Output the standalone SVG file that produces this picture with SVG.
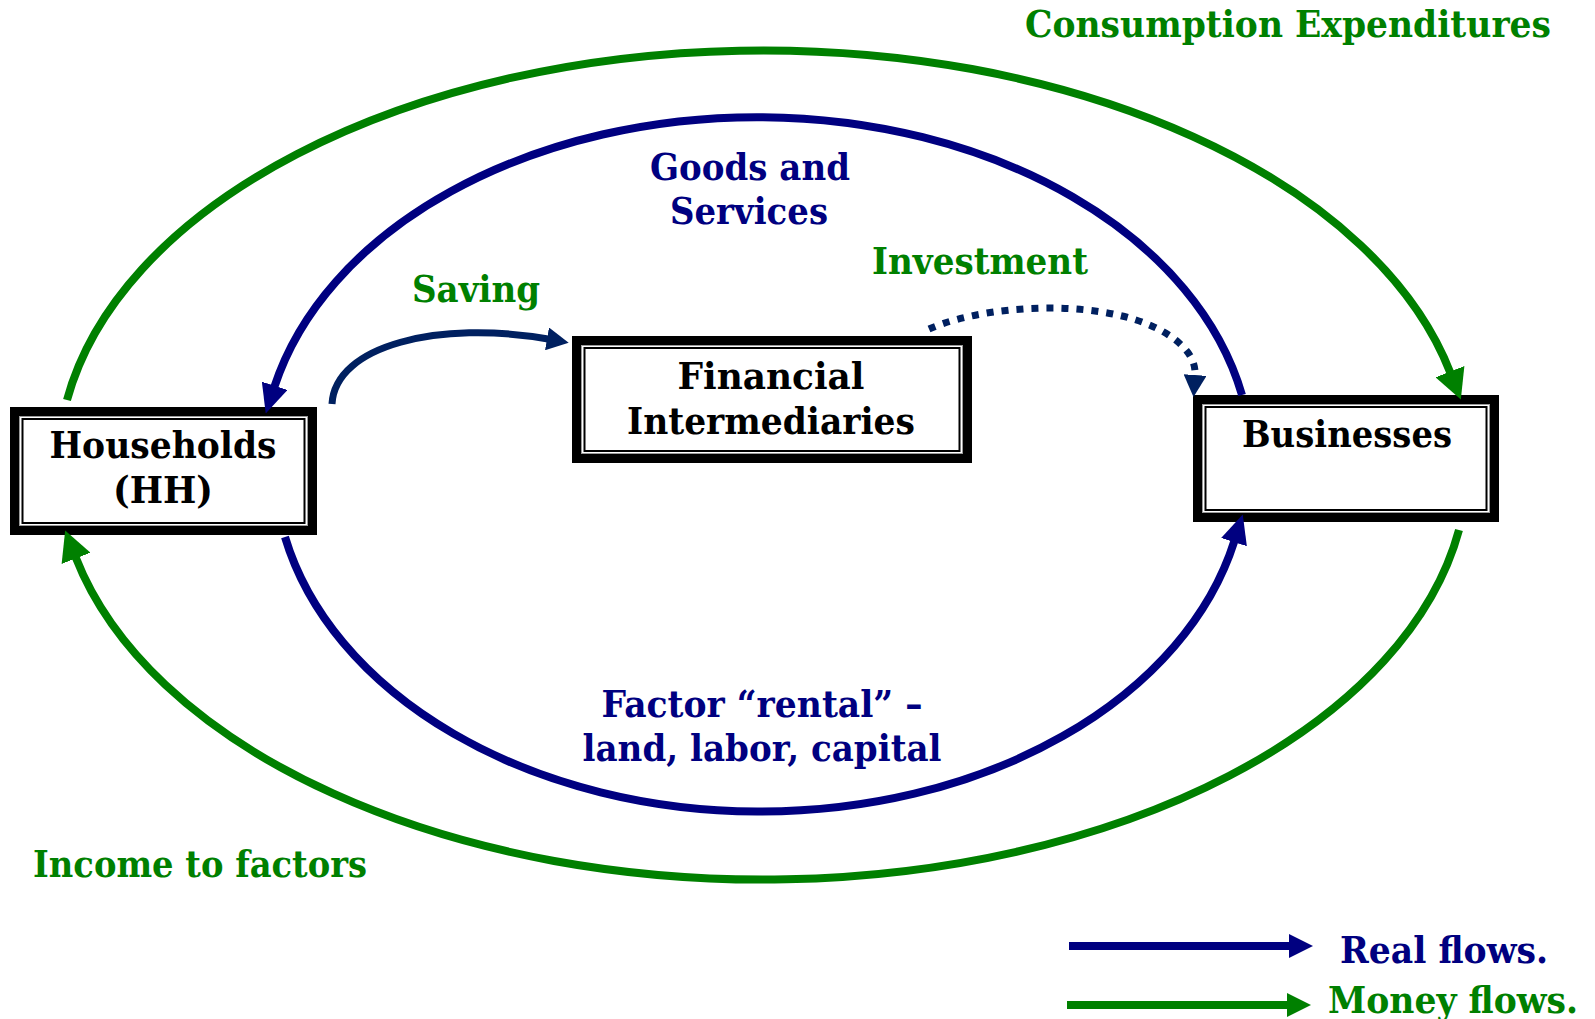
<svg xmlns="http://www.w3.org/2000/svg" width="1595" height="1019" viewBox="0 0 1595 1019">
<style>
.lbl{font-family:"DejaVu Serif","Liberation Serif",serif;font-weight:bold;font-size:37px}
.g{fill:#008000}.n{fill:#000080}.k{fill:#000}
.box-o{fill:#fff;stroke:#000;stroke-width:9}
.box-g{fill:none;stroke:#9a9a9a;stroke-width:1}
.box-i{fill:none;stroke:#000;stroke-width:2}
.cg{fill:none;stroke:#008000;stroke-width:8}
.cb{fill:none;stroke:#000080;stroke-width:8}
.cd{fill:none;stroke:#002060;stroke-width:7}
</style>
<defs>
<marker id="arrG" markerUnits="userSpaceOnUse" viewBox="0 0 30 31" markerWidth="30" markerHeight="31" refX="1" refY="15.5" orient="auto"><path d="M0,0 L30,15.5 L0,31 z" fill="#008000"/></marker>
<marker id="arrB" markerUnits="userSpaceOnUse" viewBox="0 0 29 27" markerWidth="29" markerHeight="27" refX="1" refY="13.5" orient="auto"><path d="M0,0 L29,13.5 L0,27 z" fill="#000080"/></marker>
<marker id="arrD" markerUnits="userSpaceOnUse" viewBox="0 0 22 23" markerWidth="22" markerHeight="23" refX="1" refY="11.5" orient="auto"><path d="M0,0 L22,11.5 L0,23 z" fill="#002060"/></marker>
<marker id="arrLB" markerUnits="userSpaceOnUse" viewBox="0 0 24 24" markerWidth="24" markerHeight="24" refX="1" refY="12" orient="auto"><path d="M0,0 L24,12 L0,24 z" fill="#000080"/></marker>
<marker id="arrLG" markerUnits="userSpaceOnUse" viewBox="0 0 24 24" markerWidth="24" markerHeight="24" refX="1" refY="12" orient="auto"><path d="M0,0 L24,12 L0,24 z" fill="#008000"/></marker>
</defs>
<rect width="1595" height="1019" fill="#fff"/>

<g id="households">
<rect class="box-o" x="14.5" y="411.5" width="298" height="119"/>
<rect class="box-g" x="19.5" y="416.5" width="288" height="109"/>
<rect class="box-i" x="22.5" y="419" width="282" height="104"/>
<text class="lbl k" x="163" y="458" text-anchor="middle" textLength="227" lengthAdjust="spacingAndGlyphs">Households</text>
<text class="lbl k" x="163" y="503" text-anchor="middle" textLength="100" lengthAdjust="spacingAndGlyphs">(HH)</text>
</g>

<g id="financial">
<rect class="box-o" x="576.5" y="340.5" width="391" height="118"/>
<rect class="box-g" x="581.5" y="345.5" width="381" height="108"/>
<rect class="box-i" x="584.5" y="348" width="375" height="103"/>
<text class="lbl k" x="771" y="389" text-anchor="middle" textLength="187" lengthAdjust="spacingAndGlyphs">Financial</text>
<text class="lbl k" x="771" y="434" text-anchor="middle" textLength="288" lengthAdjust="spacingAndGlyphs">Intermediaries</text>
</g>

<g id="businesses">
<rect class="box-o" x="1197.5" y="399.5" width="297" height="118"/>
<rect class="box-g" x="1202.5" y="404.5" width="287" height="108"/>
<rect class="box-i" x="1205.5" y="407" width="281" height="103"/>
<text class="lbl k" x="1347" y="447" text-anchor="middle" textLength="210" lengthAdjust="spacingAndGlyphs">Businesses</text>
</g>

<g id="connectors">
<path class="cg" d="M 67 400 A 705 415 0 0 1 1450.3 372.6" marker-end="url(#arrG)"/>
<path class="cg" d="M 1459 530 A 705 415 0 0 1 75.7 557.4" marker-end="url(#arrG)"/>
<path class="cb" d="M 1242 395 A 495 347 0 0 0 274.4 386.8" marker-end="url(#arrB)"/>
<path class="cb" d="M 285 537 A 486 347 0 0 0 1234.3 541.2" marker-end="url(#arrB)"/>
<path class="cd" d="M 332 404 C 335 345, 440 320, 548 339" marker-end="url(#arrD)"/>
<path class="cd" d="M 929 329 C 995 300, 1140 296, 1186 350 Q 1196 362 1195 376" stroke-dasharray="7 8" stroke-width="6" marker-end="url(#arrD)"/>
<path class="cb" d="M 1069 946 L 1290 946" stroke-width="7" marker-end="url(#arrLB)"/>
<path class="cg" d="M 1067 1005 L 1288 1005" stroke-width="7" marker-end="url(#arrLG)"/>
</g>

<g id="labels">
<text class="lbl g" x="1025" y="37" textLength="526" lengthAdjust="spacingAndGlyphs">Consumption Expenditures</text>
<text class="lbl n" x="750" y="180" text-anchor="middle" textLength="200" lengthAdjust="spacingAndGlyphs">Goods and</text>
<text class="lbl n" x="749" y="224" text-anchor="middle" textLength="158" lengthAdjust="spacingAndGlyphs">Services</text>
<text class="lbl g" x="476" y="302" text-anchor="middle" textLength="128" lengthAdjust="spacingAndGlyphs">Saving</text>
<text class="lbl g" x="980" y="274" text-anchor="middle" textLength="216" lengthAdjust="spacingAndGlyphs">Investment</text>
<text class="lbl n" x="762" y="717" text-anchor="middle" textLength="321" lengthAdjust="spacingAndGlyphs">Factor “rental” –</text>
<text class="lbl n" x="762" y="761" text-anchor="middle" textLength="359" lengthAdjust="spacingAndGlyphs">land, labor, capital</text>
<text class="lbl g" x="33" y="877" textLength="334" lengthAdjust="spacingAndGlyphs">Income to factors</text>
<text class="lbl n" x="1340" y="963" textLength="208" lengthAdjust="spacingAndGlyphs">Real flows.</text>
<text class="lbl g" x="1328" y="1013" textLength="250" lengthAdjust="spacingAndGlyphs">Money flows.</text>
</g>
</svg>
